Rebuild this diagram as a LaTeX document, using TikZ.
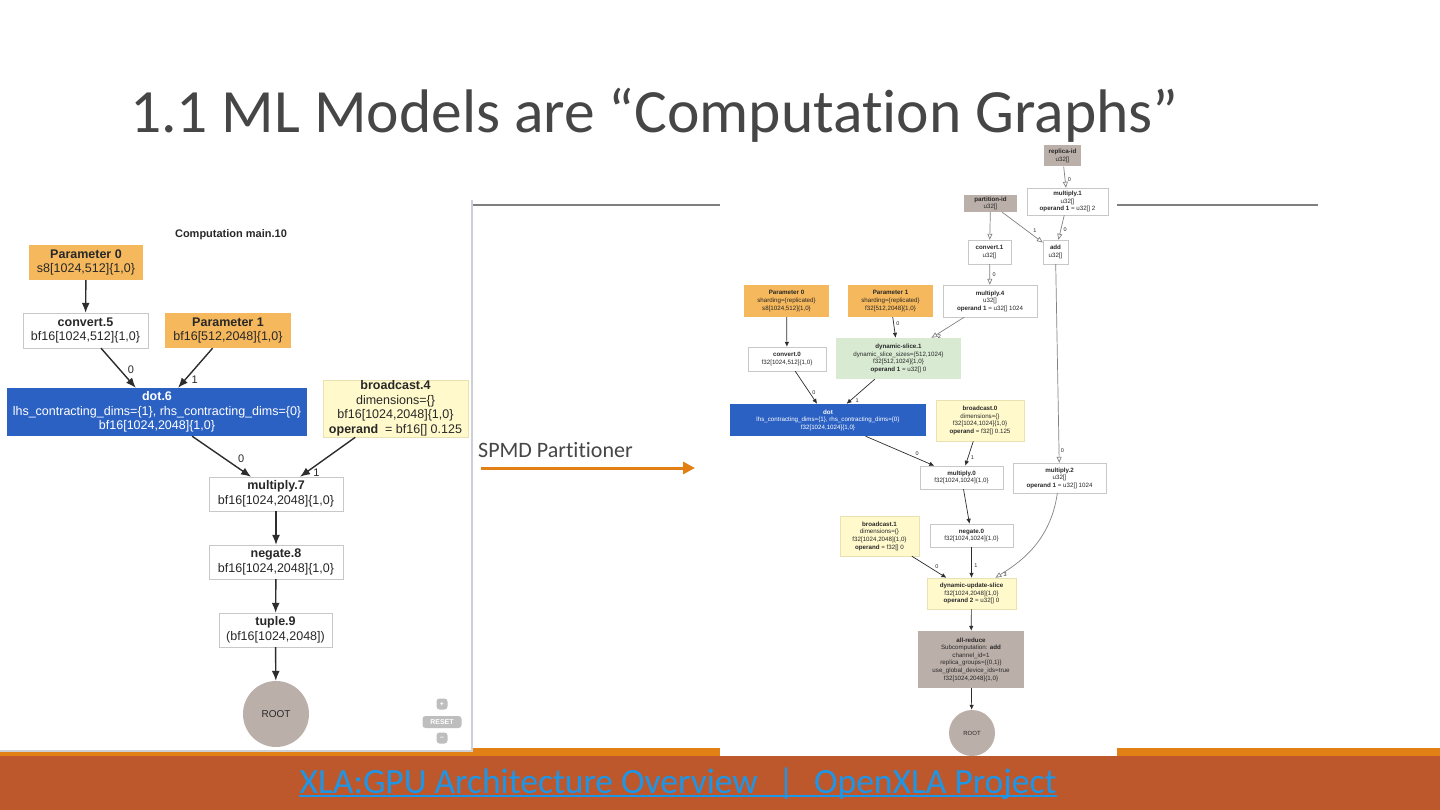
\documentclass[tikz,border=0pt]{standalone}
\usepackage{fontspec}
\setmainfont{Liberation Sans}
\newfontfamily\slidefont[Ligatures=NoCommon]{Carlito}
\usepackage{tikz}
\usetikzlibrary{arrows.meta, positioning}

\definecolor{hlotext}{RGB}{40,40,40}
\definecolor{boxgray}{RGB}{200,200,200}
\definecolor{paramorange}{RGB}{246,184,92}
\definecolor{dotblue}{RGB}{44,97,196}
\definecolor{bcyellow}{RGB}{255,249,204}
\definecolor{bcborder}{RGB}{232,226,178}
\definecolor{slicegreen}{RGB}{216,234,210}
\definecolor{sysbrown}{RGB}{187,175,169}
\definecolor{edgeblack}{RGB}{45,45,45}
\definecolor{edgegray}{RGB}{130,130,130}
\definecolor{ctlgray}{RGB}{190,190,190}
\definecolor{rulegray}{RGB}{127,127,127}
\definecolor{shotborder}{RGB}{205,208,212}
\definecolor{barorange}{RGB}{226,128,22}
\definecolor{barrust}{RGB}{188,88,44}
\definecolor{titlegray}{RGB}{70,70,70}
\definecolor{linkblue}{RGB}{30,150,232}

\newcommand\hlobig{\fontsize{12.5}{14.5}\selectfont}
\newcommand\hlosmall{\fontsize{6.2}{7.6}\selectfont}

\begin{document}
\begin{tikzpicture}[x=1pt, y=-1pt]
\tikzstyle{lop}=[draw=boxgray, fill=white, align=center, inner sep=1pt, font=\hlobig, text=hlotext]
\tikzstyle{sop}=[lop, font=\hlosmall, line width=0.4pt]
\tikzstyle{param}=[fill=paramorange, draw=none]
\tikzstyle{dotop}=[fill=dotblue, draw=none, text=white]
\tikzstyle{bcast}=[fill=bcyellow, draw=bcborder]
\tikzstyle{slice}=[fill=slicegreen, draw=none]
\tikzstyle{sysop}=[fill=sysbrown, draw=none]
\tikzstyle{rootnode}=[circle, fill=sysbrown, inner sep=0pt, text=hlotext]
\tikzstyle{ledge}=[draw=edgeblack, line width=1.4pt, -{Latex[length=10pt,width=8pt]}]
\tikzstyle{sedge}=[draw=edgeblack, line width=0.7pt, -{Latex[length=5pt,width=4.5pt]}]
\tikzstyle{uedge}=[draw=edgegray, line width=0.7pt, -{Triangle[open,length=6pt,width=5pt]}]
\tikzstyle{llabel}=[font=\fontsize{11}{11}\selectfont, inner sep=1pt, text=hlotext]
\tikzstyle{slabel}=[font=\fontsize{5.5}{5.5}\selectfont, inner sep=0.5pt, text=hlotext]
\tikzstyle{zoomctl}=[fill=ctlgray, rounded corners=3pt, text=white, inner sep=0pt, font=\bfseries\fontsize{7}{7}\selectfont]

    % slide
    \fill[white] (0,0) rectangle (1440,810);
    \useasboundingbox (0,0) rectangle (1440,810);
    \fill[barorange] (0,748) rectangle (1440,756);
    \fill[barrust] (0,756) rectangle (1440,810);
    \fill[white] (0,200) rectangle (472,751);
    \draw[shotborder, line width=1.5pt] (0,751) -- (472,751) -- (472,200);
    \fill[white] (720,143) rectangle (1117,756);
    \draw[rulegray, line width=2pt] (473,205) -- (720,205);
    \draw[rulegray, line width=2pt] (1117,205) -- (1318,205);

    \node (title) [anchor=base west, inner sep=0pt, text=titlegray, font=\slidefont\fontsize{61.5}{70}\selectfont] at (130,133) {1.1 ML Models are “Computation Graphs”};

    % before partitioning
    \node (comptitle) [font=\bfseries\fontsize{11}{11}\selectfont, text=hlotext] at (231,235) {Computation main.10};
    \node (param0) [lop, param, minimum width=114pt, minimum height=35pt] at (86,262.5) {\textbf{Parameter 0}\\s8[1024,512]\{1,0\}};
    \node (convert5) [lop, minimum width=125pt, minimum height=35pt] at (85.5,330.5) {\textbf{convert.5}\\bf16[1024,512]\{1,0\}};
    \node (param1) [lop, param, minimum width=126pt, minimum height=35pt] at (228,330.5) {\textbf{Parameter 1}\\bf16[512,2048]\{1,0\}};
    \node (dot6) [lop, dotop, minimum width=300pt, minimum height=48pt] at (157,412) {\textbf{dot.6}\\lhs\_contracting\_dims=\{1\}, rhs\_contracting\_dims=\{0\}\\bf16[1024,2048]\{1,0\}};
    \node (bcast4) [lop, bcast, minimum width=145pt, minimum height=55pt] at (395.5,408.5) {\textbf{broadcast.4}\\dimensions=\{\}\\bf16[1024,2048]\{1,0\}\\\textbf{operand}~ = bf16[] 0.125};
    \node (multiply7) [lop, minimum width=134pt, minimum height=34pt] at (276,494) {\textbf{multiply.7}\\bf16[1024,2048]\{1,0\}};
    \node (negate8) [lop, minimum width=134pt, minimum height=34pt] at (276,562) {\textbf{negate.8}\\bf16[1024,2048]\{1,0\}};
    \node (tuple9) [lop, minimum width=113pt, minimum height=34pt] at (275.5,630) {\textbf{tuple.9}\\(bf16[1024,2048])};
    \node (root) [rootnode, minimum size=66pt, font=\fontsize{10}{10}\selectfont] at (276,714) {ROOT};

    \draw[ledge] (param0) -- (convert5);
    \draw[ledge] (convert5) -- (dot6) node [llabel, pos=0.55, right=6pt] {0};
    \draw[ledge] (param1) -- (dot6) node [llabel, pos=0.8, right=5pt] {1};
    \draw[ledge] (dot6) -- (multiply7) node [llabel, pos=0.55, right=12pt] {0};
    \draw[ledge] (bcast4) -- (multiply7) node [llabel, pos=0.9, right=6pt] {1};
    \draw[ledge] (multiply7) -- (negate8);
    \draw[ledge] (negate8) -- (tuple9);
    \draw[ledge] (tuple9) -- (root);

    \node (zoomin) [zoomctl, minimum size=11pt] at (442,704) {+};
    \node (reset) [zoomctl, minimum width=39pt, minimum height=12pt] at (442,722) {RESET};
    \node (zoomout) [zoomctl, minimum size=11pt] at (442,738) {–};

    % the pass
    \node (spmd) [anchor=base west, inner sep=0pt, text=titlegray, font=\slidefont\fontsize{22}{22}\selectfont] at (478,457) {SPMD Partitioner};
    \coordinate (passend) at (695,468);
    \draw[barorange, line width=3pt, -{Triangle[length=12pt,width=12pt]}] (481,468) -- (passend);

    % after partitioning
    \node (replicaid) [sop, sysop, minimum width=37pt, minimum height=21pt] at (1062.5,156) {\textbf{replica-id}\\u32[]};
    \node (multiply1) [sop, minimum width=81pt, minimum height=27pt] at (1067.5,201.5) {\textbf{multiply.1}\\u32[]\\\textbf{operand 1} = u32[] 2};
    \node (partitionid) [sop, sysop, minimum width=53pt, minimum height=17pt] at (990.5,203.5) {\textbf{partition-id}\\u32[]};
    \node (convert1) [sop, minimum width=43pt, minimum height=24pt] at (989.5,252) {\textbf{convert.1}\\u32[]};
    \node (add) [sop, minimum width=25pt, minimum height=24pt] at (1055.5,252) {\textbf{add}\\u32[]};
    \node (multiply4) [sop, minimum width=94pt, minimum height=32pt] at (990,301) {\textbf{multiply.4}\\u32[]\\\textbf{operand 1} = u32[] 1024};
    \node (sparam0) [sop, param, minimum width=85pt, minimum height=32pt] at (786.5,301) {\textbf{Parameter 0}\\sharding=\{replicated\}\\s8[1024,512]\{1,0\}};
    \node (sparam1) [sop, param, minimum width=85pt, minimum height=32pt] at (890.5,301) {\textbf{Parameter 1}\\sharding=\{replicated\}\\f32[512,2048]\{1,0\}};
    \node (convert0) [sop, minimum width=78pt, minimum height=24pt] at (787,359) {\textbf{convert.0}\\f32[1024,512]\{1,0\}};
    \node (dslice1) [sop, slice, minimum width=125pt, minimum height=41pt] at (898.5,358.5) {\textbf{dynamic-slice.1}\\dynamic\_slice\_sizes=\{512,1024\}\\f32[512,1024]\{1,0\}\\\textbf{operand 1} = u32[] 0};
    \node (sdot) [sop, dotop, minimum width=196pt, minimum height=32pt] at (828,420) {\textbf{dot}\\lhs\_contracting\_dims=\{1\}, rhs\_contracting\_dims=\{0\}\\f32[1024,1024]\{1,0\}};
    \node (bcast0) [sop, bcast, minimum width=88pt, minimum height=41pt] at (980,420.5) {\textbf{broadcast.0}\\dimensions=\{\}\\f32[1024,1024]\{1,0\}\\\textbf{operand} = f32[] 0.125};
    \node (multiply0) [sop, minimum width=83pt, minimum height=23pt] at (961.5,477.5) {\textbf{multiply.0}\\f32[1024,1024]\{1,0\}};
    \node (multiply2) [sop, minimum width=93pt, minimum height=30pt] at (1059.5,478) {\textbf{multiply.2}\\u32[]\\\textbf{operand 1} = u32[] 1024};
    \node (bcast1) [sop, bcast, minimum width=79pt, minimum height=40pt] at (879.5,536) {\textbf{broadcast.1}\\dimensions=\{\}\\f32[1024,2048]\{1,0\}\\\textbf{operand} = f32[] 0};
    \node (negate0) [sop, minimum width=83pt, minimum height=23pt] at (971.5,535.5) {\textbf{negate.0}\\f32[1024,1024]\{1,0\}};
    \node (dus) [sop, bcast, minimum width=89pt, minimum height=31pt] at (971.5,593.5) {\textbf{dynamic-update-slice}\\f32[1024,2048]\{1,0\}\\\textbf{operand 2} = u32[] 0};
    \node (allreduce) [sop, sysop, minimum width=106pt, minimum height=57pt] at (971,659.5) {\textbf{all-reduce}\\Subcomputation: \textbf{add}\\channel\_id=1\\replica\_groups=\{\{0,1\}\}\\use\_global\_device\_ids=true\\f32[1024,2048]\{1,0\}};
    \node (sroot) [rootnode, minimum size=46pt, font=\fontsize{6}{6}\selectfont] at (972,733) {ROOT};

    \draw[uedge] (replicaid) -- (multiply1) node [slabel, pos=0.6, right=2pt] {0};
    \draw[uedge] (partitionid) -- (convert1);
    \draw[uedge] (partitionid) -- (add) node [slabel, pos=0.7, above right=0pt and 2pt] {1};
    \draw[uedge] (multiply1) -- (add) node [slabel, pos=0.6, right=2pt] {0};
    \draw[uedge] (convert1) -- (multiply4) node [slabel, pos=0.5, right=2pt] {0};
    \draw[uedge] (add) -- (multiply2) node [slabel, pos=0.94, right=1pt] {0};
    \draw[uedge] (multiply4) -- (dslice1) node [slabel, pos=0.95, right=4pt] {2};
    \draw[sedge] (sparam0) -- (convert0);
    \draw[sedge] (sparam1) -- (dslice1) node [slabel, pos=0.3, right=2pt] {0};
    \draw[sedge] (convert0) -- (sdot) node [slabel, pos=0.65, right=2pt] {0};
    \draw[sedge] (dslice1) -- (sdot) node [slabel, pos=0.85, right=4pt] {1};
    \draw[sedge] (sdot) -- (multiply0) node [slabel, pos=0.75, above=2pt] {0};
    \draw[sedge] (bcast0) -- (multiply0) node [slabel, pos=0.65, right=2pt] {1};
    \draw[sedge] (multiply0) -- (negate0);
    \draw[sedge] (bcast1) -- (dus) node [slabel, pos=0.6, above right=0pt and 2pt] {0};
    \draw[sedge] (negate0) -- (dus) node [slabel, pos=0.6, right=2pt] {1};
    \draw[uedge] (multiply2) .. controls (1050,545) and (1015,565) .. (dus) node [slabel, pos=0.93, right=3pt] {3};
    \draw[sedge] (dus) -- (allreduce);
    \draw[sedge] (allreduce) -- (sroot);

    % link
    \node (link) [anchor=base, inner sep=0pt, text=linkblue, font=\slidefont\fontsize{35.5}{36}\selectfont] at (678,793) {XLA:GPU Architecture Overview\hspace{20pt}|\hspace{20pt}OpenXLA Project};
    \draw[linkblue, line width=2pt] ([yshift=-3pt]link.base west) -- ([yshift=-3pt]link.base east);
\end{tikzpicture}
\end{document}
